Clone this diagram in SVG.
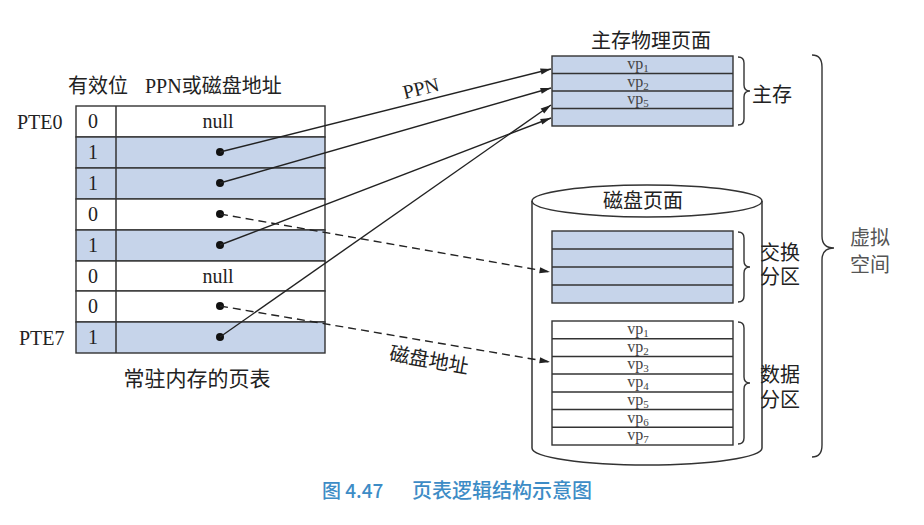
<svg xmlns="http://www.w3.org/2000/svg" width="924" height="525" viewBox="0 0 924 525">
<defs>
<marker id="ah" viewBox="0 0 12 8" refX="12" refY="4" markerWidth="12" markerHeight="7" markerUnits="userSpaceOnUse" orient="auto">
<path d="M0,0.5 L12,4 L0,7.5 z" fill="#222"/>
</marker>
<style>
.t{font-family:"Liberation Serif","Noto Sans CJK SC",serif;fill:#222;}
.g{font-family:"Liberation Serif","Noto Sans CJK SC",serif;fill:#555;}
.cell{stroke:#333;stroke-width:1.4;}
.blue{fill:#c6d4ea;}
.white{fill:#fff;}
.ln{stroke:#333;stroke-width:1.5;fill:none;}
.conn{stroke:#222;stroke-width:1.4;fill:none;marker-end:url(#ah);}
.dash{stroke-dasharray:8,5;}
.brace{stroke:#333;stroke-width:1.4;fill:none;}
.vp{font-family:"Liberation Serif",serif;font-size:16px;fill:#444;}
</style>
</defs>
<rect width="924" height="525" fill="#fff"/>

<g id="pagetable">
<text class="t" x="68" y="93" font-size="20">有效位</text>
<text class="t" x="145" y="93" font-size="20">PPN或磁盘地址</text>
<text class="t" x="17" y="129" font-size="20">PTE0</text>
<text class="t" x="19" y="345" font-size="20">PTE7</text>
<rect class="cell white" x="76" y="106" width="249" height="31"/>
<rect class="cell blue" x="76" y="137" width="249" height="31"/>
<rect class="cell blue" x="76" y="168" width="249" height="31"/>
<rect class="cell white" x="76" y="199" width="249" height="31"/>
<rect class="cell blue" x="76" y="230" width="249" height="31"/>
<rect class="cell white" x="76" y="261" width="249" height="30"/>
<rect class="cell white" x="76" y="291" width="249" height="31"/>
<rect class="cell blue" x="76" y="322" width="249" height="31"/>
<line class="ln" x1="116" y1="106" x2="116" y2="353"/>
<g class="t" font-size="20" text-anchor="middle">
<text x="93" y="128">0</text>
<text x="93" y="159">1</text>
<text x="93" y="190">1</text>
<text x="93" y="221">0</text>
<text x="93" y="252">1</text>
<text x="93" y="283">0</text>
<text x="93" y="313">0</text>
<text x="93" y="344">1</text>
<text x="218" y="128">null</text>
<text x="218" y="283">null</text>
</g>
<g fill="#111">
<circle cx="220" cy="152" r="4"/>
<circle cx="220" cy="183" r="4"/>
<circle cx="220" cy="214" r="4"/>
<circle cx="220" cy="245" r="4"/>
<circle cx="220" cy="306" r="4"/>
<circle cx="220" cy="337" r="4"/>
</g>
<text class="t" x="197" y="386" font-size="21" text-anchor="middle">常驻内存的页表</text>
</g>

<g id="mainmem">
<text class="t" x="651" y="48" font-size="20" text-anchor="middle">主存物理页面</text>
<rect class="cell blue" x="552" y="56" width="181" height="70"/>
<line class="ln" x1="552" y1="73.5" x2="733" y2="73.5"/>
<line class="ln" x1="552" y1="91" x2="733" y2="91"/>
<line class="ln" x1="552" y1="108.5" x2="733" y2="108.5"/>
<text class="vp" x="638" y="69" text-anchor="middle">vp<tspan font-size="11" dy="3">1</tspan></text>
<text class="vp" x="638" y="86.5" text-anchor="middle">vp<tspan font-size="11" dy="3">2</tspan></text>
<text class="vp" x="638" y="104" text-anchor="middle">vp<tspan font-size="11" dy="3">5</tspan></text>
<path class="brace" d="M738,57 Q744,57 744,63 L744,85 Q744,91 750,91 Q744,91 744,97 L744,119 Q744,125 738,125"/>
<text class="t" x="752" y="102" font-size="20">主存</text>
</g>

<g id="disk">
<path class="ln" d="M532,201 L532,448 A115,17 0 0 0 762,448 L762,201" fill="#fff"/>
<ellipse class="ln" cx="647" cy="201" rx="115" ry="16" fill="#fff"/>
<text class="t" x="643" y="208" font-size="20" text-anchor="middle">磁盘页面</text>
</g>

<g id="swap">
<rect class="cell blue" x="552" y="231" width="181" height="72"/>
<line class="ln" x1="552" y1="249" x2="733" y2="249"/>
<line class="ln" x1="552" y1="267" x2="733" y2="267"/>
<line class="ln" x1="552" y1="285" x2="733" y2="285"/>
<path class="brace" d="M738,232 Q744,232 744,238 L744,261 Q744,267 750,267 Q744,267 744,273 L744,296 Q744,302 738,302"/>
<text class="t" x="760" y="260" font-size="20">交换</text>
<text class="t" x="760" y="284" font-size="20">分区</text>
</g>

<g id="data">
<rect class="cell white" x="552" y="321" width="181" height="124"/>
<line class="ln" x1="552" y1="338.7" x2="733" y2="338.7"/>
<line class="ln" x1="552" y1="356.4" x2="733" y2="356.4"/>
<line class="ln" x1="552" y1="374.1" x2="733" y2="374.1"/>
<line class="ln" x1="552" y1="391.9" x2="733" y2="391.9"/>
<line class="ln" x1="552" y1="409.6" x2="733" y2="409.6"/>
<line class="ln" x1="552" y1="427.3" x2="733" y2="427.3"/>
<text class="vp" x="638" y="334" text-anchor="middle">vp<tspan font-size="11" dy="3">1</tspan></text>
<text class="vp" x="638" y="351.7" text-anchor="middle">vp<tspan font-size="11" dy="3">2</tspan></text>
<text class="vp" x="638" y="369.4" text-anchor="middle">vp<tspan font-size="11" dy="3">3</tspan></text>
<text class="vp" x="638" y="387.1" text-anchor="middle">vp<tspan font-size="11" dy="3">4</tspan></text>
<text class="vp" x="638" y="404.9" text-anchor="middle">vp<tspan font-size="11" dy="3">5</tspan></text>
<text class="vp" x="638" y="422.6" text-anchor="middle">vp<tspan font-size="11" dy="3">6</tspan></text>
<text class="vp" x="638" y="440.3" text-anchor="middle">vp<tspan font-size="11" dy="3">7</tspan></text>
<path class="brace" d="M738,322 Q744,322 744,328 L744,377 Q744,383 750,383 Q744,383 744,389 L744,438 Q744,444 738,444"/>
<text class="t" x="760" y="382" font-size="20">数据</text>
<text class="t" x="760" y="407" font-size="20">分区</text>
</g>

<g id="virtual">
<path class="brace" d="M812,55 Q822,55 822,67 L822,236 Q822,248 834,248 Q822,248 822,260 L822,445 Q822,457 812,457" stroke="#555"/>
<text class="g" x="850" y="245" font-size="20">虚拟</text>
<text class="g" x="850" y="272" font-size="20">空间</text>
</g>

<g id="connectors">
<line class="conn" x1="220" y1="152" x2="551" y2="69"/>
<line class="conn" x1="220" y1="183" x2="551" y2="88"/>
<line class="conn" x1="220" y1="245" x2="551" y2="118"/>
<line class="conn" x1="220" y1="337" x2="551" y2="105"/>
<line class="conn dash" x1="220" y1="214" x2="550" y2="272"/>
<line class="conn dash" x1="220" y1="306" x2="550" y2="362"/>
<text class="t" x="421" y="95" font-size="20" text-anchor="middle" transform="rotate(-14 421 89)">PPN</text>
<text class="t" x="429" y="367" font-size="20" text-anchor="middle" transform="rotate(10 429 360)">磁盘地址</text>
</g>

<g id="caption">
<text x="322" y="498" font-family="'Noto Sans CJK SC','Noto Sans',sans-serif" font-size="19" font-weight="500" fill="#3d8cc6">图 4.47</text>
<text x="412" y="498" font-family="'Noto Sans CJK SC','Noto Sans',sans-serif" font-size="20" font-weight="500" fill="#3d8cc6">页表逻辑结构示意图</text>
</g>
</svg>
